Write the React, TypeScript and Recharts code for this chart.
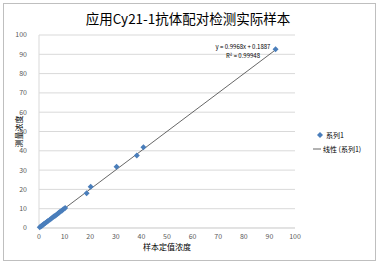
import React from "react";
import {
  ScatterChart, Scatter, XAxis, YAxis, CartesianGrid,
  ReferenceLine, Label,
} from "recharts";

// ─── Data ─────────────────────────────────────────────────────────────────────

const assigned = [0.3, 0.8, 1.2, 1.6, 2.0, 2.5, 3.0, 3.5, 4.2, 4.8, 5.3, 5.8, 6.3, 6.8, 7.3, 7.8, 8.3, 8.9, 9.5, 10.2, 18.6, 20.2, 30.3, 38.2, 40.8, 92.4];
const measured = [0.4, 0.9, 1.3, 1.7, 2.2, 2.6, 3.1, 3.6, 4.3, 4.9, 5.4, 6.0, 6.4, 6.9, 7.4, 7.9, 8.5, 9.0, 9.7, 10.4, 18.0, 21.4, 31.8, 37.6, 41.8, 92.6];
const ticks = [0, 10, 20, 30, 40, 50, 60, 70, 80, 90, 100];
const slope = 0.9968;
const intercept = 0.1887;

const points = assigned.map((x, i) => ({ x, y: measured[i] }));
const xMin = Math.min(...assigned);
const xMax = Math.max(...assigned);

const BLUE = "#4a7ebb";
const FONT = "'Noto Sans CJK SC', 'DejaVu Sans', sans-serif";

// ─── Shapes ───────────────────────────────────────────────────────────────────

function Diamond(props: any) {
  const { cx, cy } = props;
  const r = 3;
  return (
    <path
      d={`M${cx},${cy - r}L${cx + r},${cy}L${cx},${cy + r}L${cx - r},${cy}Z`}
      fill={BLUE}
    />
  );
}

// ─── Component ────────────────────────────────────────────────────────────────

export default function App() {
  return (
    <div
      style={{
        position: "absolute", left: 0, top: 0, width: 378, height: 266,
        background: "#fff", fontFamily: FONT,
      }}
    >
      <div
        style={{
          position: "absolute", left: 3, top: 3, width: 371, height: 256,
          border: "1px solid #bfbfbf",
        }}
      />
      <div
        style={{
          position: "absolute", left: 0, top: 8, width: 376, textAlign: "center",
          fontSize: 13.5, color: "#000",
        }}
      >
        应用Cy21-1抗体配对检测实际样本
      </div>
      <ScatterChart
        width={378}
        height={266}
        margin={{ top: 35, right: 83, left: 0, bottom: 22 }}
        style={{ position: "absolute", left: 0, top: 0 }}
      >
        <CartesianGrid horizontal vertical={false} stroke="#d9d9d9" />
        <XAxis
          type="number"
          dataKey="x"
          domain={[0, 100]}
          ticks={ticks}
          interval={0}
          tickLine={false}
          axisLine={{ stroke: "#d9d9d9" }}
          tick={{ fontSize: 7, fill: "#595959", fontFamily: FONT }}
          tickMargin={0}
          height={16}
        >
          <Label value="样本定值浓度" position="insideBottom" offset={-6} style={{ fontSize: 8, fill: "#000", fontFamily: FONT }} />
        </XAxis>
        <YAxis
          type="number"
          dataKey="y"
          domain={[0, 100]}
          ticks={ticks}
          interval={0}
          tickLine={false}
          axisLine={{ stroke: "#d9d9d9" }}
          tick={{ fontSize: 7, fill: "#595959", fontFamily: FONT }}
          tickMargin={6}
          width={39}
        >
          <Label value="测量浓度" angle={-90} position="insideLeft" offset={19} style={{ fontSize: 8, fill: "#000", fontFamily: FONT, textAnchor: "middle" }} />
        </YAxis>
        <ReferenceLine
          segment={[
            { x: xMin, y: slope * xMin + intercept },
            { x: xMax, y: slope * xMax + intercept },
          ]}
          stroke="#404040"
          strokeWidth={0.8}
          ifOverflow="visible"
        />
        <Scatter data={points} shape={<Diamond />} isAnimationActive={false} />
      </ScatterChart>
      <div
        style={{
          position: "absolute", left: 203, top: 42, width: 80, textAlign: "center",
          fontSize: 6, color: "#000", lineHeight: "9px", fontFamily: FONT,
        }}
      >
        <div>y = 0.9968x + 0.1887</div>
        <div>R² = 0.99948</div>
      </div>
      <svg style={{ position: "absolute", left: 310, top: 129 }} width={64} height={28}>
        <path d="M10,3L13,6L10,9L7,6Z" fill={BLUE} />
        <text x={16} y={8.5} fontSize={7} fill="#000" fontFamily={FONT}>系列1</text>
        <line x1={3} x2={11} y1={20} y2={20} stroke="#404040" strokeWidth={0.8} />
        <text x={13} y={22.5} fontSize={7} fill="#000" fontFamily={FONT}>线性 (系列1)</text>
      </svg>
    </div>
  );
}
